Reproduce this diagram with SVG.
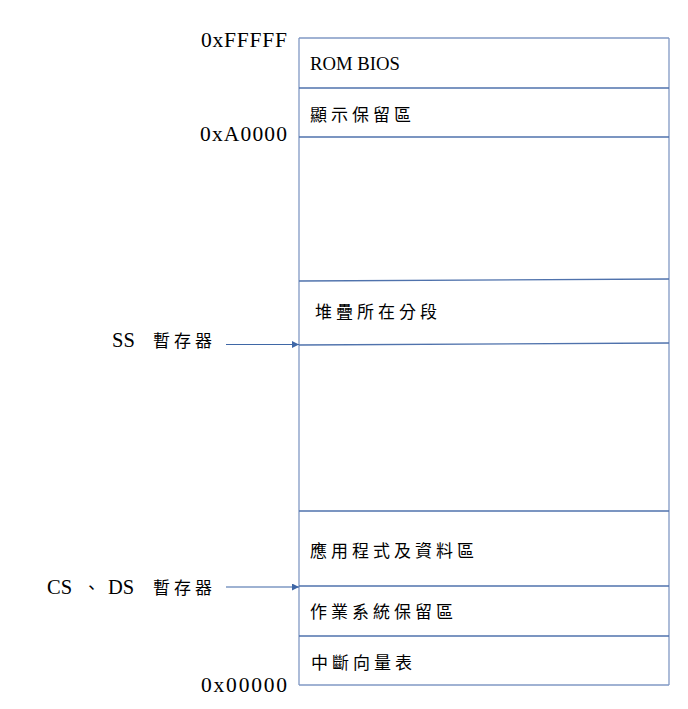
<svg xmlns="http://www.w3.org/2000/svg" width="688" height="709" viewBox="0 0 688 709">
<style>
.lat{font-family:"Liberation Serif","Times New Roman",serif;font-size:20.5px;fill:#000}
.addr{font-family:"Liberation Serif","Times New Roman",serif;font-size:21.5px;fill:#000}
.rom{font-family:"Liberation Serif","Times New Roman",serif;font-size:18.7px;fill:#000}
.cjk{font-family:"Liberation Serif","Noto Sans CJK TC",serif;font-size:17px;letter-spacing:4px;fill:#000}
.edge{stroke:#8098C4;stroke-width:1.3;fill:none}
.div{stroke:#4F72AC;stroke-width:1.3;fill:none}
.conn{stroke:#3F67A6;stroke-width:1.2;fill:none}
</style>
<defs>
<marker id="ah" viewBox="0 0 10 10" refX="10" refY="5" markerWidth="7" markerHeight="7" markerUnits="userSpaceOnUse" orient="auto">
<path d="M0,0 L10,5 L0,10 z" fill="#3F67A6"/>
</marker>
</defs>
<rect width="688" height="709" fill="#fff"/>
<g id="memory-outline">
<line class="edge" x1="299" y1="38" x2="669" y2="38"/>
<line class="edge" x1="299" y1="38" x2="299" y2="685"/>
<line class="edge" x1="669" y1="38" x2="669" y2="685"/>
<line class="edge" x1="299" y1="685" x2="669" y2="685"/>
</g>
<g id="rom-bios">
<text class="rom" x="310" y="70">ROM BIOS</text>
<line class="div" x1="299" y1="88" x2="669" y2="88"/>
</g>
<g id="display-reserved">
<text class="cjk" x="310" y="121">顯示保留區</text>
<line class="div" x1="299" y1="137" x2="669" y2="137"/>
</g>
<g id="free-upper">
<line class="div" x1="299" y1="281" x2="669" y2="279"/>
</g>
<g id="stack-segment">
<text class="cjk" x="315" y="318">堆疊所在分段</text>
<line class="div" x1="299" y1="345" x2="669" y2="343"/>
</g>
<g id="free-middle">
<line class="div" x1="299" y1="511" x2="669" y2="511"/>
</g>
<g id="app-data">
<text class="cjk" x="310" y="557">應用程式及資料區</text>
<line class="div" x1="299" y1="586" x2="669" y2="586"/>
</g>
<g id="os-reserved">
<text class="cjk" x="310" y="618">作業系統保留區</text>
<line class="div" x1="299" y1="636" x2="669" y2="636"/>
</g>
<g id="ivt">
<text class="cjk" x="311" y="669">中斷向量表</text>
</g>
<g id="addr-labels">
<text class="addr" x="201" y="47" textLength="86" lengthAdjust="spacing">0xFFFFF</text>
<text class="addr" x="200" y="141" textLength="87" lengthAdjust="spacing">0xA0000</text>
<text class="addr" x="201" y="692" textLength="86" lengthAdjust="spacing">0x00000</text>
</g>
<g id="ss-register">
<text class="lat" x="112" y="347">SS</text>
<text class="cjk" x="153" y="347">暫存器</text>
</g>
<g id="cs-ds-register">
<text class="lat" x="47" y="594">CS</text>
<text class="cjk" x="83" y="594">、</text>
<text class="lat" x="108" y="594">DS</text>
<text class="cjk" x="153" y="594">暫存器</text>
</g>
<g id="connectors">
<line class="conn" x1="226" y1="344.5" x2="299" y2="344.5" marker-end="url(#ah)"/>
<line class="conn" x1="226" y1="587" x2="299" y2="587" marker-end="url(#ah)"/>
</g>
</svg>
